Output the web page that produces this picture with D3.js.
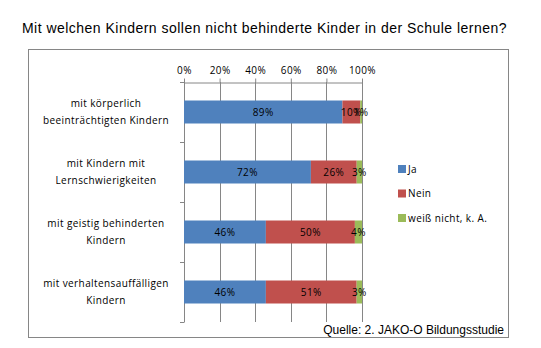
<!DOCTYPE html>
<html><head><meta charset="utf-8">
<script src="https://cdn.jsdelivr.net/npm/d3@7"></script>
<style>body{margin:0;background:#fff}svg{display:block}</style>
</head><body>
<script>
const categories = [
  ["mit körperlich","beeinträchtigten Kindern"],
  ["mit Kindern mit","Lernschwierigkeiten"],
  ["mit geistig behinderten","Kindern"],
  ["mit verhaltensauffälligen","Kindern"]
];
const seriesNames = ["Ja","Nein","weiß nicht, k. A."];
const ja =    [89,72,46,46];
const nein =  [10,26,50,51];
const weiss = [1,3,4,3];
const tickLabels = ["0%","20%","40%","60%","80%","100%"];
const colors = ["#4F81BD","#C0504D","#9BBB59"];
const title = "Mit welchen Kindern sollen nicht behinderte Kinder in der Schule lernen?";
const source = "Quelle: 2. JAKO-O Bildungsstudie";

const W=541,H=348;
const svg=d3.select("body").append("svg").attr("width",W).attr("height",H);
const lf="'Open Sans', sans-serif";

const tt=svg.append("text").attr("x",264.5).attr("y",33).attr("text-anchor","middle")
  .attr("font-family","'Liberation Sans', Arial, sans-serif").attr("font-size",14).attr("fill","#000").text(title);
const tw=tt.node().getComputedTextLength();
tt.attr("letter-spacing",((485-tw)/(title.length-1)).toFixed(2)+"px");

svg.append("rect").attr("x",28.5).attr("y",49.5).attr("width",480).attr("height",288)
  .attr("fill","#fff").attr("stroke","#868686").attr("stroke-width",1);

const x=d3.scaleLinear().domain([0,1]).range([184,362]);
const yb=d3.scaleBand().domain(d3.range(categories.length)).range([82,322]);

const g=svg.append("g");
g.selectAll("line.grid").data(d3.range(1,6)).join("line")
  .attr("x1",d=>Math.round(x(d/5))+0.5).attr("x2",d=>Math.round(x(d/5))+0.5)
  .attr("y1",82).attr("y2",322).attr("stroke","#868686");

const xAxis=d3.axisTop(x).tickValues(d3.range(0,6).map(d=>d/5)).tickFormat((d,i)=>tickLabels[i]).tickSize(4).tickSizeOuter(0);
const ax=svg.append("g").attr("transform","translate(0,82.5)").call(xAxis);
ax.select(".domain").attr("stroke","#868686");
ax.selectAll(".tick line").attr("stroke","#868686");
ax.selectAll(".tick text").attr("font-family",lf).attr("font-size",10).attr("fill","#000").attr("dy","-0.2em").attr("letter-spacing","0.4px");

svg.append("line").attr("x1",184.5).attr("x2",184.5).attr("y1",82).attr("y2",322).attr("stroke","#868686");
svg.selectAll("line.ytick").data(d3.range(categories.length+1)).join("line")
  .attr("x1",180).attr("x2",184.5)
  .attr("y1",d=>Math.round(82+d*yb.step())+0.5).attr("y2",d=>Math.round(82+d*yb.step())+0.5)
  .attr("stroke","#868686");

const series=[ja,nein,weiss];
const rows=categories.map((c,i)=>{
  const vals=series.map(s=>s[i]);const tot=d3.sum(vals);let acc=0;
  return vals.map((v,k)=>{const s0=acc/tot;acc+=v;return {i,k,v,s0,s1:acc/tot};});
}).flat();
svg.selectAll("rect.bar").data(rows).join("rect")
  .attr("x",d=>x(d.s0)).attr("width",d=>x(d.s1)-x(d.s0))
  .attr("y",d=>yb(d.i)+yb.bandwidth()/2-11.5).attr("height",23)
  .attr("fill",d=>colors[d.k]);
svg.selectAll("text.lab").data(rows).join("text")
  .attr("x",d=>(x(d.s0)+x(d.s1))/2).attr("y",d=>yb(d.i)+yb.bandwidth()/2)
  .attr("dy","0.35em").attr("text-anchor","middle")
  .attr("font-family",lf).attr("font-size",10).attr("letter-spacing","0.4px").attr("fill","#000")
  .text(d=>d.v+"%");

categories.forEach((c,i)=>{
  const cy=yb(i)+yb.bandwidth()/2;
  const t=svg.append("text").attr("text-anchor","middle").attr("font-family",lf).attr("font-size",10)
    .attr("letter-spacing","0.4px").attr("fill","#000");
  c.forEach((line,j)=>{
    t.append("tspan").attr("x",106).attr("y",cy+(j-(c.length-1)/2)*17).attr("dy","0.35em").text(line);
  });
});

const lg=svg.append("g");
seriesNames.forEach((n,k)=>{
  const ly=169+k*24.5;
  lg.append("rect").attr("x",398).attr("y",ly-4).attr("width",8).attr("height",8).attr("fill",colors[k]);
  lg.append("text").attr("x",408).attr("y",ly).attr("dy","0.35em").attr("font-family",lf).attr("font-size",10)
    .attr("letter-spacing","0.4px").attr("fill","#000").text(n);
});

svg.append("text").attr("x",504).attr("y",334).attr("text-anchor","end")
  .attr("font-family","'Liberation Sans', Arial, sans-serif").attr("font-size",12).attr("fill","#000").text(source);
</script>
</body></html>
